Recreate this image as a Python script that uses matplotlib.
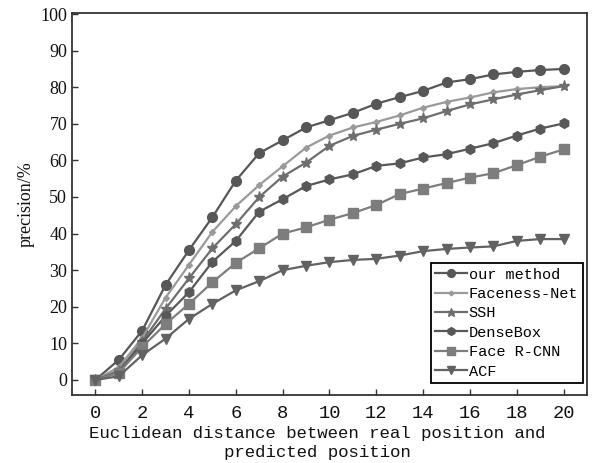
import numpy as np
import matplotlib
matplotlib.use('Agg')
import matplotlib.pyplot as plt

# distance values on x axis
dist = np.arange(0, 21)

# precision (%)
our_method = [0, 5.5, 13.5, 26, 35.5, 44.5, 54.5, 62, 65.5, 69, 71, 73, 75.5, 77.3, 79, 81.3, 82.2, 83.5, 84.2, 84.7, 85]
faceness = [0, 3.5, 11.5, 22.5, 31.5, 40.5, 47.5, 53.3, 58.4, 63.5, 66.8, 69, 70.5, 72.3, 74.4, 76, 77.2, 78.6, 79.5, 80, 80.3]
ssh = [0, 2.5, 10.5, 19.5, 27.8, 36, 42.6, 50, 55.6, 59.4, 64, 66.7, 68.4, 70, 71.5, 73.5, 75.3, 76.7, 78, 79.2, 80.3]
densebox = [0, 2, 10, 17.5, 24, 32.3, 38, 46, 49.4, 53, 54.8, 56.2, 58.5, 59.2, 60.8, 61.7, 63.2, 64.7, 66.8, 68.7, 70.1]
face_rcnn = [0, 2, 9, 15.3, 20.8, 26.7, 32, 36, 40, 41.7, 43.8, 45.6, 47.8, 50.8, 52.3, 53.8, 55.3, 56.5, 58.7, 61, 63]
acf = [0, 1, 6.8, 11.3, 16.7, 20.8, 24.5, 27, 30, 31.2, 32.2, 32.8, 33.1, 34, 35.2, 35.8, 36.2, 36.5, 38, 38.5, 38.5]

labels = ['our method', 'Faceness-Net', 'SSH', 'DenseBox', 'Face R-CNN', 'ACF']

fig = plt.figure(figsize=(5.95, 4.63), dpi=100)
ax = fig.add_axes([0.121, 0.147, 0.8655, 0.825])

ax.plot(dist, our_method, color='#575757', lw=1.6, marker='o', ms=7, label=labels[0])
ax.plot(dist, faceness, color='#9a9a9a', lw=1.6, marker='D', ms=3, label=labels[1])
ax.plot(dist, ssh, color='#6e6e6e', lw=1.6, marker='*', ms=8, label=labels[2])
ax.plot(dist, densebox, color='#585858', lw=1.6, marker='h', ms=7, label=labels[3])
ax.plot(dist, face_rcnn, color='#7d7d7d', lw=1.6, marker='s', ms=7, label=labels[4])
ax.plot(dist, acf, color='#626262', lw=1.6, marker='v', ms=7, label=labels[5])

ax.set_xlim(-1, 21)
ax.set_ylim(-4.1, 100.3)
ax.set_xticks(range(0, 21, 2))
ax.set_yticks(range(0, 101, 10))
ax.tick_params(direction='in', length=4, width=1, colors='#333333', labelcolor='#111111')
ax.tick_params(axis='x', pad=7)
for lab in ax.get_xticklabels():
    lab.set_fontfamily('Liberation Mono')
    lab.set_fontsize(13.5)
for lab in ax.get_yticklabels():
    lab.set_fontfamily('Liberation Serif')
    lab.set_fontsize(13)

for s in ax.spines.values():
    s.set_linewidth(1.3)
    s.set_color('#333333')

ax.set_xlabel('Euclidean distance between real position and\npredicted position',
              family='Liberation Mono', fontsize=12.5, linespacing=1.3,
              color='#111111')
ax.xaxis.set_label_coords(0.476, -0.082, transform=ax.transAxes)
ax.xaxis.label.set_va('top')
ax.set_ylabel('precision/%', family='Liberation Serif', fontsize=13, labelpad=4,
              color='#111111')

leg = ax.legend(loc='lower right', bbox_to_anchor=(0.992, 0.031), borderaxespad=0,
                prop={'family': 'Liberation Mono', 'size': 11},
                fancybox=False, edgecolor='black', framealpha=1,
                handlelength=2.1, handletextpad=0.1, labelspacing=0.35,
                borderpad=0.3, markerscale=0.8)
leg.get_frame().set_linewidth(1.3)

fig.savefig('out.png', dpi=100)
